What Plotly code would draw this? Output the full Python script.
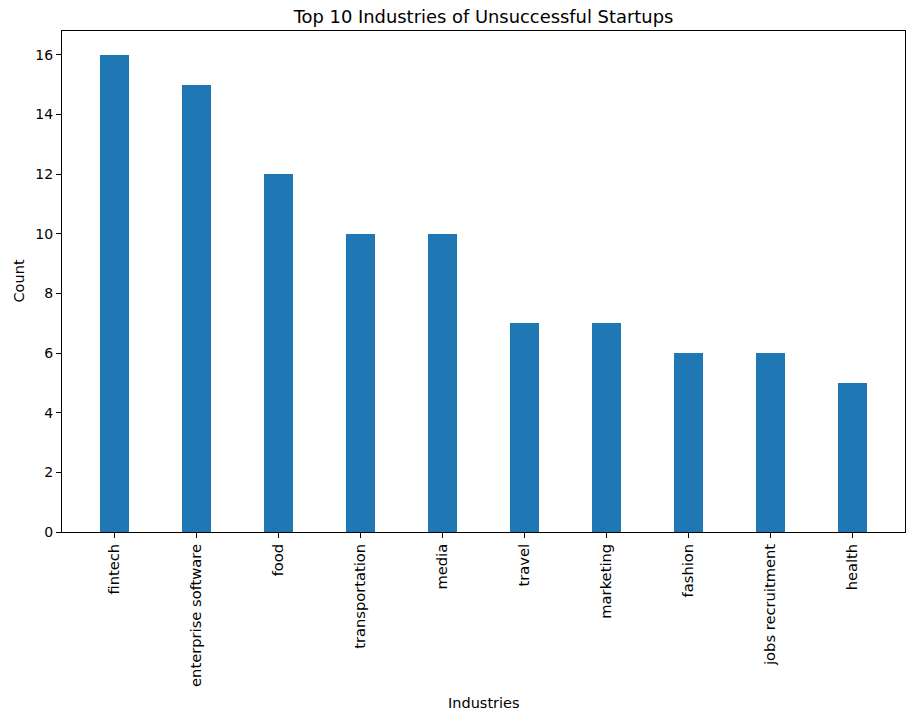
import plotly.graph_objects as go

industries = ["fintech", "enterprise software", "food", "transportation", "media",
              "travel", "marketing", "fashion", "jobs recruitment", "health"]
counts = [16, 15, 12, 10, 10, 7, 7, 6, 6, 5]
y_ticks = [0, 2, 4, 6, 8, 10, 12, 14, 16]

W, H = 906, 715
L, R, T, B = 62, 1, 31, 183
pw, ph = W - L - R, H - T - B

FAM = "DejaVu Sans"
font = dict(family=FAM, size=14.5, color="black")
xtick_font = dict(family=FAM, size=14.7, color="black")
ytick_font = dict(family=FAM, size=14, color="black")

fig = go.Figure(go.Bar(
    x=list(range(len(industries))), y=counts, width=0.35,
    marker=dict(color="#1f77b4", line=dict(width=0)),
))

fig.update_layout(
    width=W, height=H,
    margin=dict(l=L, r=R, t=T, b=B),
    plot_bgcolor="white", paper_bgcolor="white",
    showlegend=False,
    font=font,
    title=dict(text="Top 10 Industries of Unsuccessful Startups",
               font=dict(family=FAM, size=17.9, color="black"),
               x=(L + pw / 2) / W, xanchor="center",
               y=1 - 17 / H, yanchor="middle", yref="container"),
    bargap=0,
)
fig.update_xaxes(
    range=[-0.6425, 9.6425],
    tickmode="array", tickvals=list(range(len(industries))), ticktext=industries,
    tickangle=-90, ticks="outside", ticklen=5, tickcolor="black", tickwidth=1,
    showline=True, linecolor="black", linewidth=1, mirror=True,
    showgrid=False, zeroline=False, tickfont=xtick_font,
)
fig.update_yaxes(
    range=[0, 16.8],
    tickmode="array", tickvals=y_ticks, ticktext=[str(v) for v in y_ticks],
    ticks="outside", ticklen=5, tickcolor="black", tickwidth=1,
    showline=True, linecolor="black", linewidth=1, mirror=True,
    showgrid=False, zeroline=False, tickfont=ytick_font,
)
fig.add_annotation(text="Count", xref="paper", yref="paper",
                   x=(18 - L) / pw, y=0.5, xanchor="center", yanchor="middle",
                   textangle=-90, showarrow=False, font=font)
fig.add_annotation(text="Industries", xref="paper", yref="paper",
                   x=0.5, y=(T + ph - 703) / ph, xanchor="center", yanchor="middle",
                   showarrow=False, font=font)

fig.write_html("out.html", config={"displayModeBar": False},
               post_script="document.body.style.margin='0';document.body.style.overflow='hidden';")
